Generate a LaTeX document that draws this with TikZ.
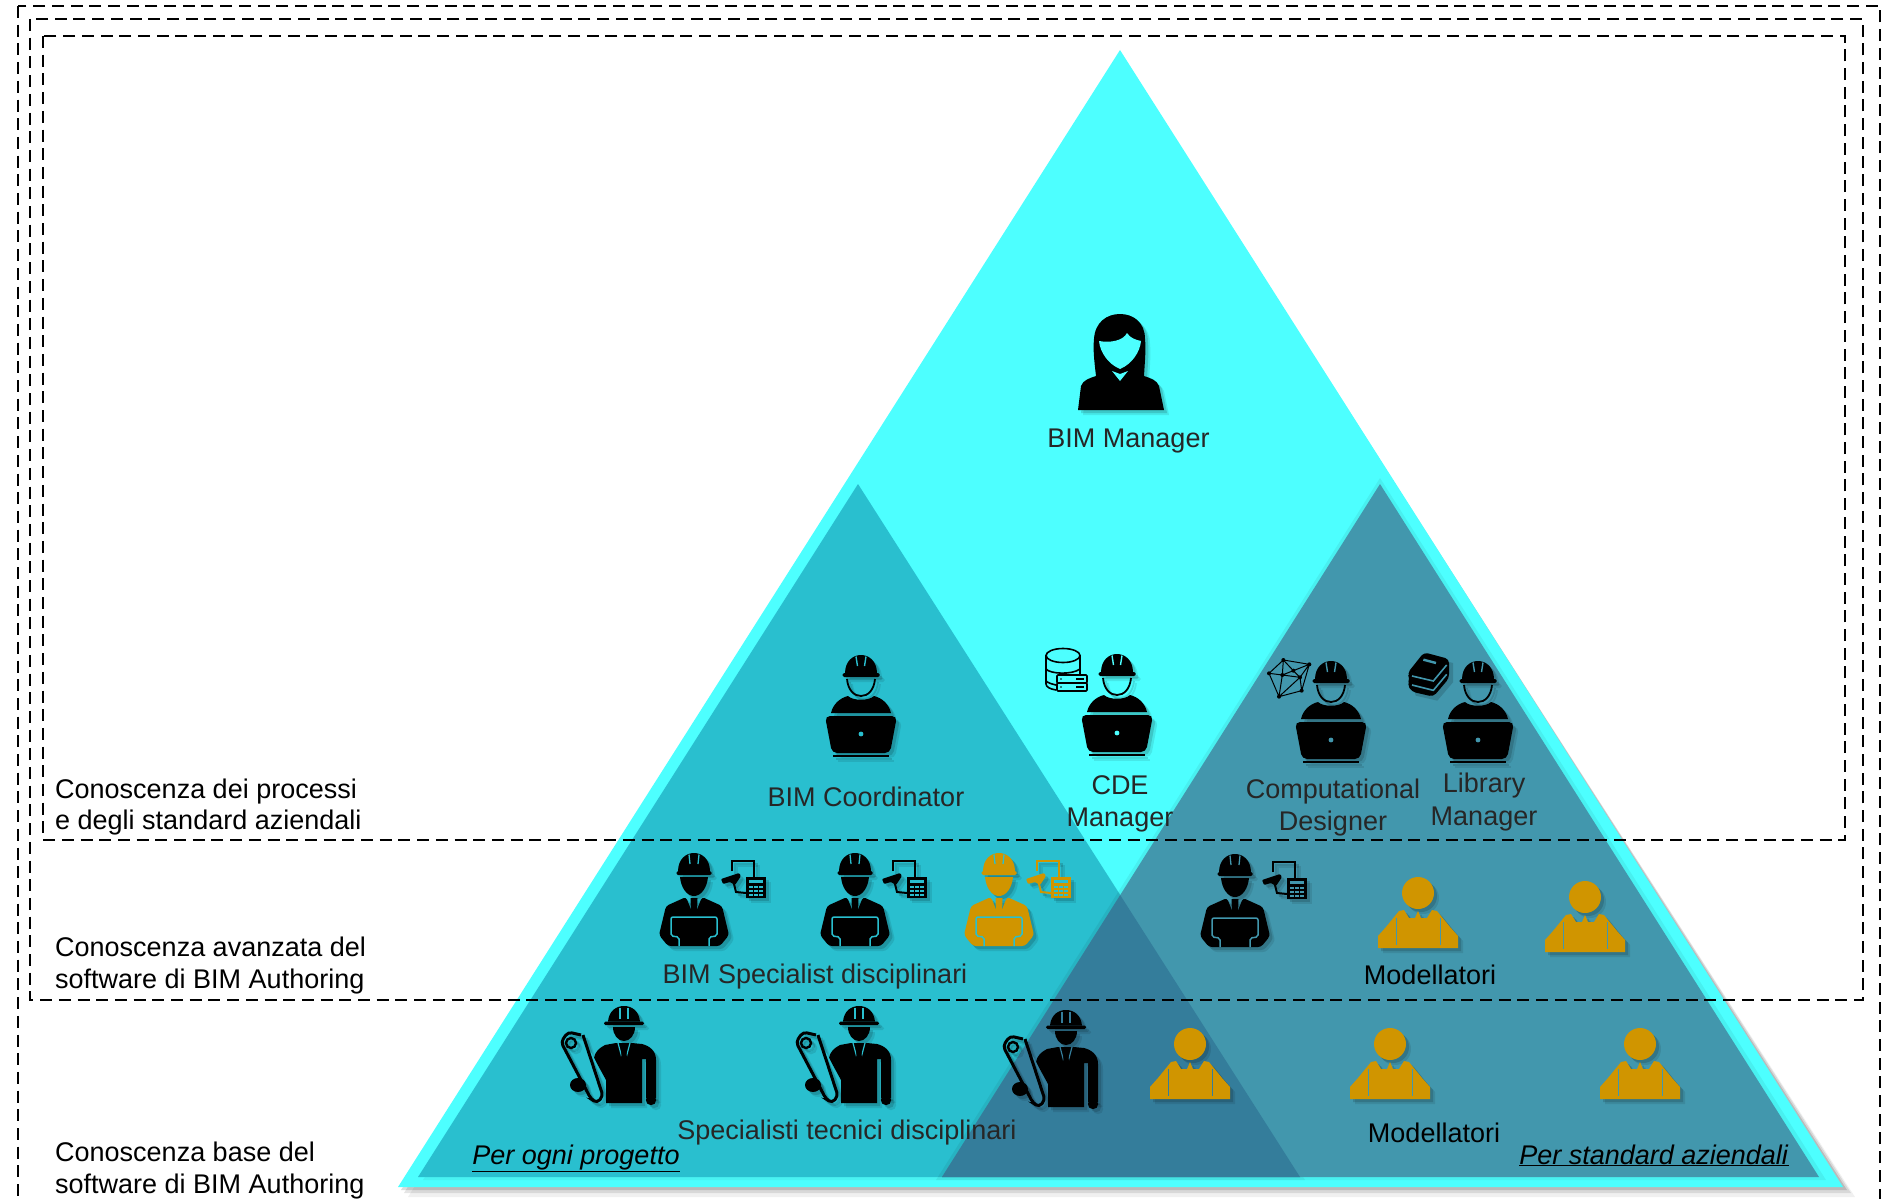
\documentclass[tikz,border=0pt]{standalone}
\usepackage{fontspec}
\setmainfont{Liberation Sans}
\definecolor{cyanbg}{HTML}{4DFFFF}
\definecolor{lefttri}{HTML}{29BFCF}
\definecolor{righttri}{HTML}{4297AD}
\definecolor{overlaptri}{HTML}{347D9B}
\definecolor{gold}{HTML}{D09500}
\definecolor{inkdark}{HTML}{262626}
\tikzset{
  zone/.style={draw=black,line width=2.6pt,dash pattern=on 12pt off 6.7pt},
  lbl/.style={font=\fontsize{27}{32}\selectfont,text=inkdark,anchor=base,inner sep=0pt},
  side/.style={font=\fontsize{27}{32}\selectfont,text=black,anchor=base west,inner sep=0pt},
  pics/lap/.style 2 args={code={
    \path[fill=#1] (-16,18.5) .. controls (-16,6) and (-8,0) .. (0,0) .. controls (8,0) and (16,6) .. (16,18.5) -- cycle;
    \path[fill=#1,rounded corners=1.5pt] (-18.5,18) rectangle (18.5,22);
    \path[draw=#2,line width=1.4pt] (-5,1.5) -- (-3.5,11) (5,1.5) -- (3.5,11);
    \path[draw=#1,line width=1.8pt] (-14,24) .. controls (-13,35) and (-7,41) .. (0,41) .. controls (7,41) and (13,35) .. (14,24);
    \path[fill=#1] (-30,58) .. controls (-28,49) and (-21,43) .. (-13,41) .. controls (-8,46) and (8,46) .. (13,41) .. controls (21,43) and (28,49) .. (30,58) -- cycle;
    \path[fill=#1,rounded corners=5pt] (-36,61) -- (36,61) -- (29,98) -- (-29,98) -- cycle;
    \path[fill=#2] (0,79) circle (2.4);
    \path[draw=#1,line width=1.8pt] (-28,101) -- (28,101);
  }},
  pics/suit/.style 2 args={code={
    \path[fill=#1] (-16,18.5) .. controls (-16,6) and (-8,0) .. (0,0) .. controls (8,0) and (16,6) .. (16,18.5) -- cycle;
    \path[fill=#1,rounded corners=1.5pt] (-17.5,18) rectangle (17.5,22);
    \path[draw=#2,line width=1.3pt] (-5,1.5) -- (-4,11) (5,1.5) -- (4,11);
    \path[fill=#1] (-14,24) -- (14,24) .. controls (13,35) and (7,43) .. (0,43) .. controls (-7,43) and (-13,35) .. (-14,24) -- cycle;
    \path[fill=#1,rounded corners=3pt] (-8,44) -- (-28,53) -- (-35,82) -- (-26,93) -- (26,93) -- (35,82) -- (28,53) -- (8,44) -- (0,64) -- cycle;
    \path[fill=#1] (-3.5,45) -- (3.5,45) -- (3,60) -- (0,64) -- (-3,60) -- cycle;
    \path[draw=#2,line width=1.5pt,rounded corners=2pt] (-15,93) -- (-15,84) -- (-23,83) -- (-23,64) -- (23,64) -- (23,83) -- (15,84) -- (15,93);
    \path[draw=#1,line width=2pt] (38,18) -- (38,8) -- (60,8) -- (60,24);
    \path[fill=#1,rounded corners=1pt] (27,26) -- (29,31) -- (36,29) -- (41,32) -- (47,23) -- (45,20) -- cycle;
    \path[draw=#1,line width=2pt] (40,31) -- (42,39) -- (52,40);
    \path[fill=#1] (52,24) rectangle (72,45);
    \path[fill=#2] (55,27) rectangle (69,30);
    \foreach \cx in {55,60,65}{\foreach \cy in {32.5,36.5,40.5}{\path[fill=#2] (\cx,\cy) rectangle ++(3.6,2.6);}}
  }},
  pics/roll/.style 2 args={code={
    \path[fill=#1] (-16,15.5) .. controls (-15,5) and (-8,0) .. (0,0) .. controls (8,0) and (15,5) .. (16,15.5) -- cycle;
    \path[fill=#1,rounded corners=1.5pt] (-20,15.5) rectangle (20,19);
    \path[draw=#2,line width=1.4pt] (-4,1.5) -- (-4,13) (4,1.5) -- (4,13);
    \path[fill=#1] (-11,21) -- (11,21) .. controls (11,29) and (6,35) .. (0,35) .. controls (-6,35) and (-11,29) .. (-11,21) -- cycle;
    \path[fill=#1] (-8,37) -- (-19,39) .. controls (-25,42) and (-29,46) .. (-30,52) -- (-18,74) -- (-18,97) -- (18,97) -- (18,53) -- (22,53) -- (22,92) -- (32,92) -- (32,54) .. controls (32,45) and (26,40) .. (18,38) -- (8,37) -- cycle;
    \path[fill=#1] (27,94) circle (5.2);
    \path[draw=#2,line width=1.2pt] (-6,37) -- (-2,52) (6,37) -- (2,52);
    \path[fill=#1] (-2.5,40) -- (2.5,40) -- (3,60) -- (-3,60) -- cycle;
    \path[draw=#2,line width=1.6pt] (-33,47) -- (-20,76);
    \path[draw=#1,line width=3pt,rounded corners=4pt] (-43,29) -- (-56,26) -- (-63,36) -- (-33,93) -- (-27,97) -- (-21,90) -- (-41,29);
    \path[draw=#1,line width=2.4pt] (-53,37) circle (5);
    \path[fill=#1] (-46,79) ellipse (8 and 7);
  }},
  pics/woman/.style 2 args={code={
    \path[fill=#1] (-42,96) -- (-39,72) .. controls (-37,66) and (-30,64) .. (-24,62) .. controls (-26,45) and (-27,35) .. (-26,25) .. controls (-25,8) and (-13,0) .. (0,0) .. controls (13,0) and (25,8) .. (25,25) .. controls (26,35) and (25,45) .. (24,62) .. controls (30,64) and (37,66) .. (39,72) -- (44,96) -- cycle;
    \path[fill=#2] (-21,27) .. controls (-10,29) and (3,27) .. (7,19) .. controls (10,24) and (16,26) .. (21,27) .. controls (20,38) and (12,50) .. (0,55) .. controls (-12,50) and (-20,38) .. (-21,27) -- cycle;
    \path[fill=#2] (-8,57) -- (0,60) -- (8,57) -- (0,67) -- cycle;
  }},
  pics/modeller/.style 2 args={code={
    \path[fill=#1] (0,16) circle (16);
    \path[fill=#1] (-40,71) -- (-40,59) -- (-32,50) -- (-19,34) -- (-14,33) -- (-9,41) -- (-3,41) -- (0,34) -- (3,41) -- (9,41) -- (14,33) -- (19,34) -- (32,50) -- (40,59) -- (40,71) -- cycle;
    \path[draw=#2,line width=1pt] (-22,41) -- (-22,68) (22,41) -- (22,68);
  }},
}
\newcommand\placeicon[5]{%
  \begin{scope}[shift={(#1+5,#2+5)},scale=#4,opacity=.09]\pic {#3={black}{none}};\end{scope}
  \begin{scope}[shift={(#1+3,#2+3)},scale=#4,opacity=.14]\pic {#3={black}{none}};\end{scope}
  \begin{scope}[shift={(#1,#2)},scale=#4]\pic {#3=#5};\end{scope}}
\begin{document}
\begin{tikzpicture}[x=1pt,y=-1pt]
\useasboundingbox (0,0) rectangle (1882,1199);
\clip (0,0) rectangle (1882,1199);
% big triangle
\fill[black,opacity=.06] (1120,60) -- (1855,1197) -- (408,1197) -- cycle;
\fill[black,opacity=.10] (1120,56) -- (1851,1193) -- (404,1193) -- cycle;
\fill[black,opacity=.14] (1120,53) -- (1847,1190) -- (401,1190) -- cycle;
\fill[cyanbg] (1120,50) -- (1843,1187) -- (398,1187) -- cycle;
% inner triangles with soft shade
\fill[black,opacity=.05] (858,489) -- (1305,1180) -- (423,1180) -- cycle;
\fill[lefttri] (858,484) -- (1300,1177) -- (418,1177) -- cycle;
\fill[black,opacity=.06] (1380,478) -- (1826,1180) -- (936,1180) -- cycle;
\fill[righttri] (1380,484) -- (1819,1177) -- (942,1177) -- cycle;
\begin{scope}
  \clip (858,484) -- (1300,1177) -- (418,1177) -- cycle;
  \fill[overlaptri] (1380,484) -- (1819,1177) -- (942,1177) -- cycle;
\end{scope}
% dashed zones
\draw[zone] (18,6) rectangle (1880,1215);
\draw[zone] (30,19) rectangle (1863,1000);
\draw[zone] (43,36) rectangle (1845,840);
% icons
\placeicon{1120}{314}{woman}{1}{{black}{cyanbg}}
\placeicon{861}{655}{lap}{1}{{black}{lefttri}}
\placeicon{1117}{654}{lap}{1}{{black}{cyanbg}}
\placeicon{1331}{661}{lap}{.98}{{black}{righttri}}
\placeicon{1478}{661}{lap}{.98}{{black}{righttri}}
\placeicon{694}{853}{suit}{1}{{black}{lefttri}}
\placeicon{855}{853}{suit}{1}{{black}{lefttri}}
\placeicon{999}{853}{suit}{1}{{gold}{lefttri}}
\placeicon{1235}{854}{suit}{1}{{black}{righttri}}
\placeicon{624}{1006}{roll}{1}{{black}{lefttri}}
\placeicon{859}{1006}{roll}{1}{{black}{lefttri}}
\placeicon{1066}{1010}{roll}{.95}{{black}{overlaptri}}
\placeicon{1418}{877}{modeller}{.96}{{gold}{righttri}}
\placeicon{1585}{881}{modeller}{.96}{{gold}{righttri}}
\placeicon{1190}{1028}{modeller}{.98}{{gold}{overlaptri}}
\placeicon{1390}{1028}{modeller}{1}{{gold}{righttri}}
\placeicon{1640}{1028}{modeller}{.98}{{gold}{righttri}}
% database beside CDE Manager
\begin{scope}[line width=1.6pt,draw=black]
  \draw (1063,655.5) ellipse (17 and 7);
  \draw (1046,656) -- (1046,684) .. controls (1046,687) and (1050,689) .. (1056,690);
  \draw (1080,656) -- (1080,675);
  \draw (1046,669) .. controls (1050,674) and (1072,675) .. (1080,669);
  \draw (1046,681) .. controls (1048,683) and (1052,684) .. (1056,685);
  \draw[rounded corners=1pt,fill=cyanbg] (1057,675) rectangle (1087,683);
  \draw[rounded corners=1pt,fill=cyanbg] (1057,683) rectangle (1087,691);
  \fill (1061,679) circle (.9) (1061,687) circle (.9);
  \draw (1076,679) -- (1084,679) (1076,687) -- (1084,687);
\end{scope}
% polyhedron beside Computational Designer
\begin{scope}[shift={(1265,650)},x=.3333pt,y=-.3333pt]
  \coordinate (pa) at (55,30); \coordinate (pb) at (133,43); \coordinate (pc) at (12,70);
  \coordinate (pd) at (52,75); \coordinate (pe) at (85,62); \coordinate (pf) at (105,82);
  \coordinate (pg) at (110,122); \coordinate (ph) at (42,140);
  \draw[black,line width=1pt] (pa)--(pb)--(pg)--(ph)--(pc)--(pa) (pa)--(pe)--(pb) (pa)--(pd)--(pc) (pd)--(ph) (pd)--(pe)--(pf)--(pb) (pd)--(pf)--(ph) (pf)--(pg);
  \foreach \p in {pa,pb,pc,pd,pe,pf,pg,ph}{\fill[black] (\p) circle (6);}
\end{scope}
% books beside Library Manager
\begin{scope}[shift={(1400,645)},x=.3333pt,y=-.3333pt]
  \fill[black,opacity=.15] (34,97) -- (84,34) -- (159,54) -- (159,112) -- (112,167) -- (47,152) -- cycle;
  \fill[black,rounded corners=4pt] (22,85) -- (72,22) -- (147,42) -- (147,100) -- (100,155) -- (35,140) -- (22,118) -- (30,100) -- cycle;
  \draw[righttri,line width=1.6pt] (36,93) -- (100,108) -- (140,60);
  \draw[righttri,line width=1.6pt] (36,120) -- (100,136) -- (140,88);
  \draw[righttri,line width=2.4pt] (70,44) -- (108,54);
\end{scope}
% labels
\node[lbl] (bimmgr) at (1128.5,447) {BIM Manager};
\node[lbl] (coord) at (866,806) {BIM Coordinator};
\node[lbl] (cde1) at (1120,794) {CDE};
\node[lbl] (cde2) at (1120,826) {Manager};
\node[lbl] (comp1) at (1333,798) {Computational};
\node[lbl] (comp2) at (1333,830) {Designer};
\node[lbl] (lib1) at (1484,792.5) {Library};
\node[lbl] (lib2) at (1484,825) {Manager};
\node[lbl] (spec) at (815,983) {BIM Specialist disciplinari};
\node[lbl] (tec) at (847,1139) {Specialisti tecnici disciplinari};
\node[lbl,text=black] (mod1) at (1430,984) {Modellatori};
\node[lbl,text=black] (mod2) at (1434,1142) {Modellatori};
\node[lbl,text=black] (ogni) at (576,1164) {\underline{\textit{Per ogni progetto}}};
\node[lbl,text=black] (azi) at (1654,1164) {\underline{\textit{Per standard aziendali}}};
\node[side] (s1) at (55,798) {Conoscenza dei processi};
\node[side] (s2) at (55,829) {e degli standard aziendali};
\node[side] (s3) at (55,956) {Conoscenza avanzata del};
\node[side] (s4) at (55,988) {software di BIM Authoring};
\node[side] (s5) at (55,1161) {Conoscenza base del};
\node[side] (s6) at (55,1193) {software di BIM Authoring};
\end{tikzpicture}
\end{document}
